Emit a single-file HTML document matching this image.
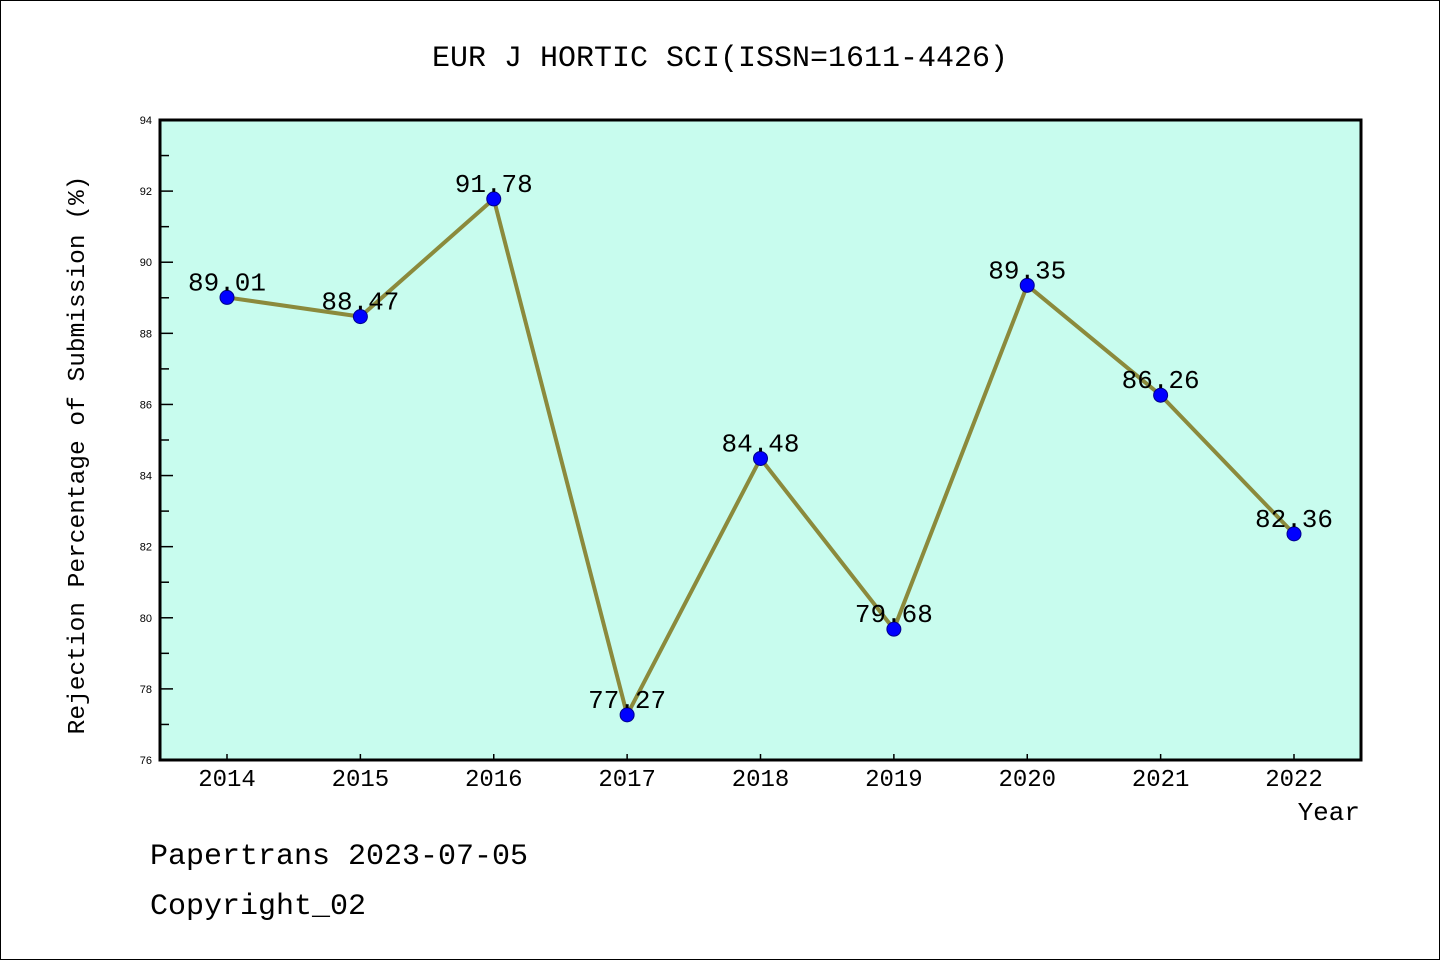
<!DOCTYPE html>
<html><head><meta charset="utf-8"><style>
html,body{margin:0;padding:0;background:#fff;}
svg{display:block;}
</style></head><body>
<svg id="chart" width="1440" height="960" xmlns="http://www.w3.org/2000/svg">
<rect x="0.5" y="0.5" width="1439" height="959" fill="#fff" stroke="#000" stroke-width="1"/>
<text x="720" y="66" text-anchor="middle" font-family="Liberation Mono, monospace" font-size="30" fill="#000">EUR J HORTIC SCI(ISSN=1611-4426)</text>
<rect x="160" y="120" width="1201" height="640" fill="#c8fcee"/>
<g id="yticks"></g>
<g id="xticks"></g>
<g id="series"></g>
<rect x="160" y="120" width="1201" height="640" fill="none" stroke="#000" stroke-width="3"/>
<text transform="translate(84,455) rotate(-90)" text-anchor="middle" font-family="Liberation Mono, monospace" font-size="24.5" fill="#000">Rejection Percentage of Submission (%)</text>
<text x="1360" y="820" text-anchor="end" font-family="Liberation Mono, monospace" font-size="26" fill="#000">Year</text>
<text x="150" y="864" font-family="Liberation Mono, monospace" font-size="30" fill="#000">Papertrans 2023-07-05</text>
<text x="150" y="914" font-family="Liberation Mono, monospace" font-size="30" fill="#000">Copyright_02</text>
</svg>
<script>
const years = [2014,2015,2016,2017,2018,2019,2020,2021,2022];
const values = [89.01,88.47,91.78,77.27,84.48,79.68,89.35,86.26,82.36];
const valueLabels = ["89.01","88.47","91.78","77.27","84.48","79.68","89.35","86.26","82.36"];
const yTicks = [76,78,80,82,84,86,88,90,92,94];
const yMinor = [77,79,81,83,85,87,89,91,93];

const NS="http://www.w3.org/2000/svg";
const yMin=76,yMax=94,plotTop=120,plotBottom=760;
function ys(v){return plotBottom-(v-yMin)/(yMax-yMin)*(plotBottom-plotTop);}
const x0=227,x1=1294;
function xs(yr){return x0+(yr-years[0])/(years[years.length-1]-years[0])*(x1-x0);}
function mk(tag,attrs,parent){const e=document.createElementNS(NS,tag);for(const k in attrs)e.setAttribute(k,attrs[k]);parent.appendChild(e);return e;}

const yg=document.getElementById('yticks');
yTicks.forEach(t=>{
  const l=mk('line',{x1:160,x2:173,y1:ys(t),y2:ys(t),stroke:'#000','stroke-width':1.5},yg);
  
  
  const tx=mk('text',{x:152,y:ys(t)+4,'text-anchor':'end','font-family':'Liberation Sans, sans-serif','font-size':11,fill:'#000'},yg);
  tx.textContent=t;
  
  
});
yMinor.forEach(t=>{
  const l=mk('line',{x1:160,x2:169,y1:ys(t),y2:ys(t),stroke:'#000','stroke-width':1.5},yg);
  
  
});
const xg=document.getElementById('xticks');
years.forEach(yr=>{
  const l=mk('line',{x1:xs(yr),x2:xs(yr),y1:760,y2:754,stroke:'#000','stroke-width':1.5},xg);
  
  
  const tx=mk('text',{x:xs(yr),y:786,'text-anchor':'middle','font-family':'Liberation Mono, monospace','font-size':24,fill:'#000'},xg);
  tx.textContent=yr;
  
  
});
const sg=document.getElementById('series');
const pts=years.map((yr,i)=>xs(yr)+','+ys(values[i])).join(' ');
const pl=mk('polyline',{points:pts,fill:'none',stroke:'#8b8a3c','stroke-width':4,'stroke-linejoin':'round'},sg);


years.forEach((yr,i)=>{
  const c=mk('circle',{cx:xs(yr),cy:ys(values[i]),r:7,fill:'#0000ff',stroke:'#00008b','stroke-width':1},sg);
  
  
});
years.forEach((yr,i)=>{
  const tx=mk('text',{x:xs(yr),y:ys(values[i])-7,'text-anchor':'middle','font-family':'Liberation Mono, monospace','font-size':26,fill:'#000'},sg);
  tx.textContent=valueLabels[i];
  
  
});
</script>
</body></html>
